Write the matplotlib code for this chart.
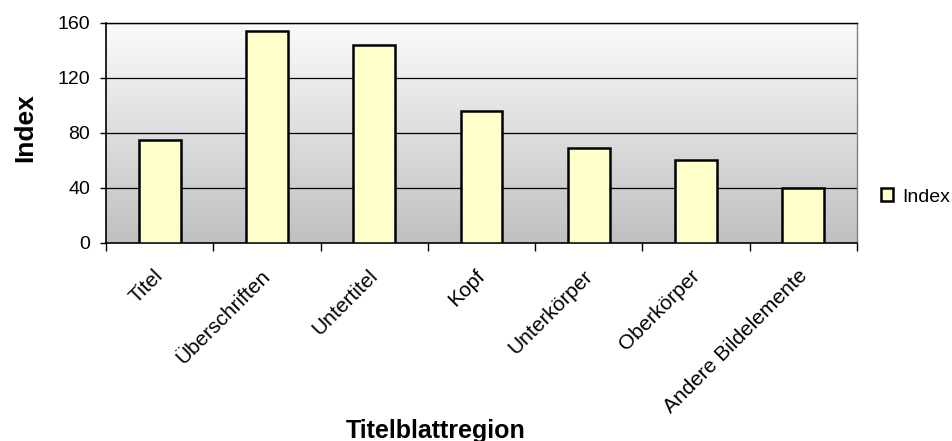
import numpy as np
import matplotlib
matplotlib.use("Agg")
import matplotlib.pyplot as plt
from matplotlib.colors import LinearSegmentedColormap
from matplotlib.transforms import ScaledTranslation

plt.rcParams['font.family'] = ['Liberation Sans', 'DejaVu Sans']

# data
categories = ["Titel", "Überschriften", "Untertitel", "Kopf",
              "Unterkörper", "Oberkörper", "Andere Bildelemente"]
values = [75, 154, 144, 96, 69, 60, 40]
yticks = [0, 40, 80, 120, 160]

fig = plt.figure(figsize=(9.52, 4.41), dpi=100)
ax = fig.add_axes([0.1113, 0.4497, 0.7889, 0.4988])

n = len(categories)
x = np.arange(n)
ax.set_xlim(-0.5, n - 0.5)
ax.set_ylim(0, 160)

# grey gradient background, light at top
cmap = LinearSegmentedColormap.from_list("bg", ["#c0c0c0", "#fbfbfb"])
grad = np.linspace(0, 1, 256).reshape(-1, 1)
ax.imshow(grad, aspect="auto", cmap=cmap, origin="lower",
          extent=(-0.5, n - 0.5, 0, 160), zorder=0)

for yv in yticks[1:]:
    ax.axhline(yv, color="#000000", lw=0.9, zorder=1)

bars = ax.bar(x, values, width=0.39, color="#ffffcc", edgecolor="black",
              linewidth=1.8, zorder=3, label="Index")

ax.set_yticks(yticks)
ax.set_yticklabels([str(v) for v in yticks], fontsize=14)
ax.tick_params(axis="y", direction="out", length=4.5, width=1, pad=7)

# ticks between categories, labels at centres
ax.set_xticks(np.arange(-0.5, n, 1.0))
ax.set_xticklabels([])
ax.tick_params(axis="x", which="major", direction="out", length=6, width=1)
ax.set_xticks(x, minor=True)
ax.set_xticklabels(categories, minor=True, rotation=45, ha="right",
                   va="top", rotation_mode="anchor", fontsize=15)
ax.tick_params(axis="x", which="minor", length=0, pad=17)
shift = ScaledTranslation(-6 / 100, 0, fig.dpi_scale_trans)
for lbl in ax.get_xticklabels(minor=True):
    lbl.set_transform(lbl.get_transform() + shift)

for side in ["left", "bottom"]:
    ax.spines[side].set_color("black")
    ax.spines[side].set_linewidth(1.2)
ax.spines["top"].set_color("#000000")
ax.spines["top"].set_linewidth(1.0)
ax.spines["right"].set_color("#808080")
ax.spines["right"].set_linewidth(1.0)

ax.set_ylabel("Index", fontsize=19, fontweight="bold")
ax.yaxis.set_label_coords(-0.091, 0.524)
ax.set_xlabel("Titelblattregion", fontsize=18, fontweight="bold", va="baseline")
ax.xaxis.set_label_coords(0.4575, 0.0075, transform=fig.transFigure)

leg = ax.legend(loc="center left", bbox_to_anchor=(1.032, 0.208), frameon=False,
                fontsize=14, handlelength=0.62, handleheight=0.62,
                handletextpad=0.45, borderaxespad=0, borderpad=0)
leg.get_patches()[0].set_linewidth(1.8)

fig.savefig("out.png", dpi=100)
